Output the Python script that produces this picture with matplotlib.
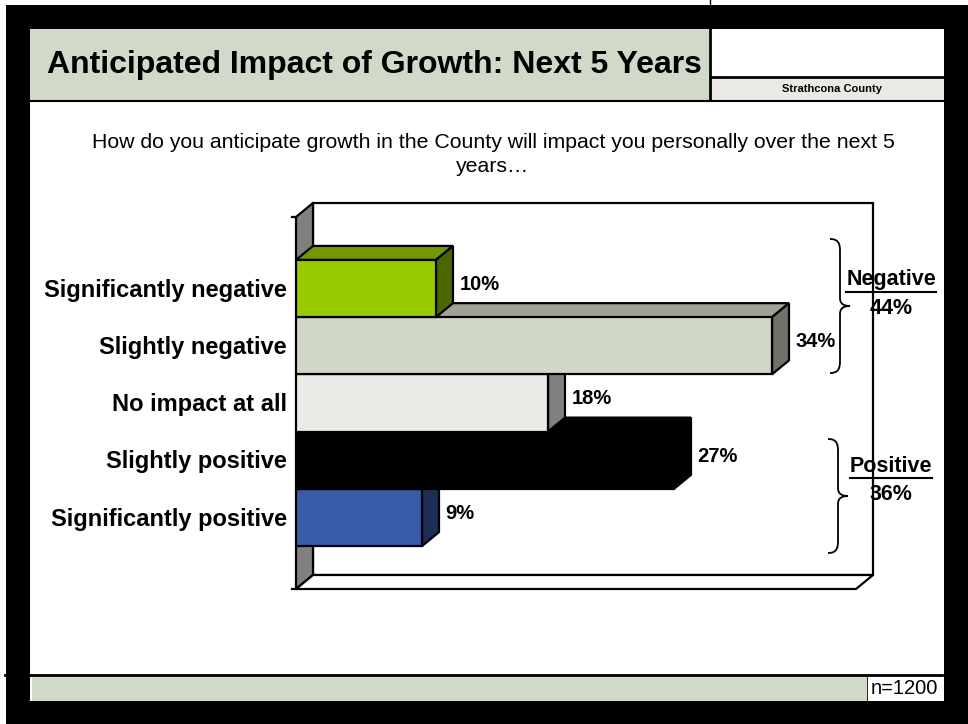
import matplotlib.pyplot as plt
from matplotlib.patches import Rectangle, Polygon, PathPatch
from matplotlib.path import Path

plt.rcParams['font.family'] = ['Liberation Sans', 'DejaVu Sans']

# survey responses, top to bottom
categories = ["Significantly negative", "Slightly negative", "No impact at all",
              "Slightly positive", "Significantly positive"]
percent = [10, 34, 18, 27, 9]
front_colors = ["#99CC00", "#D1D8C8", "#EAEAE6", "#000000", "#3A5BA8"]
top_colors = ["#739900", "#A0A398", "#B0B0AC", "#000000", "#2B4480"]
side_colors = ["#4D6600", "#6E7268", "#808080", "#000000", "#1E2D55"]

negative_idx = [0, 1]
positive_idx = [3, 4]

title = "Anticipated Impact of Growth: Next 5 Years"
question = ["How do you anticipate growth in the County will impact you personally over the next 5",
            "years\u2026"]
sample = "n=1200"

W, H = 968, 724
fig = plt.figure(figsize=(W / 100, H / 100), dpi=100)
fig.patch.set_facecolor("white")

# page frame drawn in pixel coordinates
bg = fig.add_axes([0, 0, 1, 1])
bg.set_xlim(0, W)
bg.set_ylim(H, 0)
bg.axis("off")

bg.add_patch(Rectangle((6, 5), W - 6, H - 5, facecolor="black", edgecolor="none"))
bg.add_patch(Rectangle((30, 29), 914, 672, facecolor="white", edgecolor="none"))
bg.plot([710, 710], [0, 5], color="black", lw=1)

# header
bg.add_patch(Rectangle((30, 29), 679, 71, facecolor="#D1D9C9", edgecolor="none"))
bg.add_patch(Rectangle((711, 77), 233, 23, facecolor="#E9EAE4", edgecolor="none"))
bg.plot([710, 710], [29, 100], color="black", lw=2)
bg.plot([711, 944], [76.5, 76.5], color="black", lw=2)
bg.plot([30, 944], [100.5, 100.5], color="black", lw=1.5)
bg.text(47, 65, title, fontsize=23, fontweight="bold", ha="left", va="center")
bg.text(832, 88.5, "Strathcona County", fontsize=8, fontweight="bold", ha="center", va="center")

bg.text(493, 143, question[0], fontsize=15.3, ha="center", va="center")
bg.text(493, 166, question[1], fontsize=15.3, ha="center", va="center")

# footer
bg.plot([5, 942], [675, 675], color="black", lw=2)
bg.add_patch(Rectangle((32, 676), 835, 25, facecolor="#D1D9C9", edgecolor="none"))
bg.plot([867, 867], [676, 701], color="black", lw=0.6)
bg.text(938, 689, sample, fontsize=14.5, ha="right", va="center")

# chart: front plane of the 3D box
x_max = 40
y_top, y_bot = -1.25, len(categories) - 0.5 + 0.75
ax = fig.add_axes([296 / W, (H - 589) / H, 560 / W, 372 / H], zorder=2)
ax.set_xlim(0, x_max)
ax.set_ylim(y_bot, y_top)
ax.axis("off")
ax.patch.set_alpha(0)

# depth of the box in data units
dx = 17 / (560 / x_max)
dy = -14 / (372 / (y_bot - y_top))

edge = dict(edgecolor="black", linewidth=1.6, joinstyle="miter", clip_on=False)
ax.add_patch(Polygon([(dx, y_top + dy), (x_max + dx, y_top + dy),
                      (x_max + dx, y_bot + dy), (dx, y_bot + dy)],
                     facecolor="white", zorder=1, **edge))
ax.add_patch(Polygon([(0, y_top), (dx, y_top + dy), (dx, y_bot + dy), (0, y_bot)],
                     facecolor="#808080", zorder=1, **edge))
ax.add_patch(Polygon([(0, y_bot), (x_max, y_bot), (x_max + dx, y_bot + dy), (dx, y_bot + dy)],
                     facecolor="white", zorder=1, **edge))
for yy in (y_top, y_bot):
    ax.plot([-0.3, 0], [yy, yy], color="black", lw=1.6, clip_on=False, zorder=1)

# bars drawn bottom-up so each front face hides the top face below it
for i in range(len(categories) - 1, -1, -1):
    v = percent[i]
    z = 10 + (len(categories) - i) * 3
    y0, y1 = i - 0.5, i + 0.5
    ax.add_patch(Polygon([(0, y0), (v, y0), (v + dx, y0 + dy), (dx, y0 + dy)],
                         facecolor=top_colors[i], zorder=z, **edge))
    ax.add_patch(Polygon([(v, y0), (v + dx, y0 + dy), (v + dx, y1 + dy), (v, y1)],
                         facecolor=side_colors[i], zorder=z + 1, **edge))
    ax.barh(i, v, height=1.0, left=0, color=front_colors[i], edgecolor="black",
            linewidth=1.6, zorder=z + 2)
    ax.text(v + dx + 0.45, i + dy * 0.3, f"{v}%", fontsize=14.5, fontweight="bold",
            ha="left", va="center", zorder=40)
    ax.text(-0.65, i + 0.03, categories[i], fontsize=17, fontweight="bold",
            ha="right", va="center", clip_on=False)

# group braces and totals on top of everything
ov = fig.add_axes([0, 0, 1, 1], zorder=3)
ov.set_xlim(0, W)
ov.set_ylim(H, 0)
ov.axis("off")
ov.patch.set_alpha(0)


def brace(x0, ya, yb, hook=10, tip=10):
    ym = (ya + yb) / 2
    verts = [(x0 - hook, ya), (x0 - 2, ya), (x0, ya + 4), (x0, ya + 12),
             (x0, ym - 8),
             (x0, ym - 2), (x0 + tip * 0.4, ym), (x0 + tip, ym),
             (x0 + tip * 0.4, ym), (x0, ym + 2), (x0, ym + 8),
             (x0, yb - 12),
             (x0, yb - 4), (x0 - 2, yb), (x0 - hook, yb)]
    codes = [Path.MOVETO, Path.CURVE4, Path.CURVE4, Path.CURVE4,
             Path.LINETO,
             Path.CURVE4, Path.CURVE4, Path.CURVE4,
             Path.CURVE4, Path.CURVE4, Path.CURVE4,
             Path.LINETO,
             Path.CURVE4, Path.CURVE4, Path.CURVE4]
    ov.add_patch(PathPatch(Path(verts, codes), facecolor="none", edgecolor="black", lw=1.3))


brace(840, 239, 373)
brace(838, 439, 553)

groups = [("Negative", sum(percent[k] for k in negative_idx), 280),
          ("Positive", sum(percent[k] for k in positive_idx), 466)]
fig.canvas.draw()
renderer = fig.canvas.get_renderer()
for name, total, yc in groups:
    t = ov.text(891, yc, name, fontsize=15.5, fontweight="bold", ha="center", va="center")
    ov.text(891, yc + 28, f"{total}%", fontsize=15.5, fontweight="bold", ha="center", va="center")
    bb = t.get_window_extent(renderer)
    ov.plot([bb.x0, bb.x1], [H - bb.y0 + 1, H - bb.y0 + 1], color="black", lw=1.5)

fig.savefig("out.png", dpi=100)
